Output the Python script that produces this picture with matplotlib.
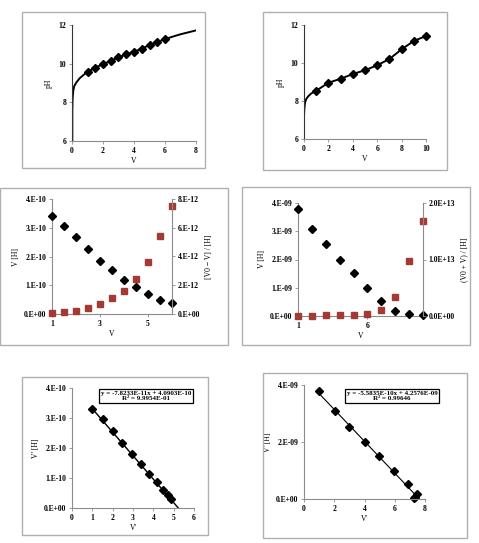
import matplotlib
matplotlib.use("Agg")
import matplotlib.pyplot as plt
from matplotlib.patches import Rectangle

# ---------------- data ----------------
# panel 1: titration curve + measured points
p1_curve_v = [0.02, 0.02, 0.04, 0.08, 0.15, 0.3, 0.5, 0.75, 1.0, 1.5, 2.0, 2.5,
              3.0, 3.5, 4.0, 4.5, 5.0, 5.5, 6.0, 6.5, 7.0, 7.5, 8.0]
p1_curve_ph = [6.0, 7.6, 8.2, 8.6, 8.85, 9.05, 9.25, 9.42, 9.58, 9.79, 9.98, 10.14,
               10.33, 10.48, 10.62, 10.77, 10.97, 11.12, 11.27, 11.4, 11.52, 11.62, 11.72]
p1_v = [1.0, 1.5, 2.0, 2.5, 3.0, 3.5, 4.0, 4.5, 5.0, 5.5, 6.0]
p1_ph = [9.58, 9.79, 9.98, 10.14, 10.33, 10.48, 10.62, 10.77, 10.97, 11.12, 11.27]

# panel 2
p2_curve_v = [0.0, 0.0, 0.03, 0.08, 0.18, 0.35, 0.6, 1.0, 2, 3, 4, 5, 6, 7, 8, 9, 10]
p2_curve_ph = [6.0, 7.2, 7.6, 7.9, 8.1, 8.25, 8.4, 8.54, 8.96, 9.17, 9.42, 9.62,
               9.88, 10.21, 10.72, 11.16, 11.42]
p2_v = [1, 2, 3, 4, 5, 6, 7, 8, 9, 10]
p2_ph = [8.54, 8.96, 9.17, 9.42, 9.62, 9.88, 10.21, 10.72, 11.16, 11.42]

# panel 3: V [H] (left) and (V0 - V)/[H] (right)
p3_v = [1.0, 1.5, 2.0, 2.5, 3.0, 3.5, 4.0, 4.5, 5.0, 5.5, 6.0]
p3_left = [3.40e-10, 3.05e-10, 2.69e-10, 2.26e-10, 1.85e-10, 1.53e-10,
           1.19e-10, 0.93e-10, 0.68e-10, 0.49e-10, 0.38e-10]
p3_right = [0.05e-12, 0.12e-12, 0.23e-12, 0.40e-12, 0.70e-12, 1.09e-12,
            1.63e-12, 2.42e-12, 3.60e-12, 5.40e-12, 7.53e-12]

# panel 4
p4_v = [1, 2, 3, 4, 5, 6, 7, 8, 9, 10]
p4_left = [3.80e-9, 3.08e-9, 2.54e-9, 1.99e-9, 1.51e-9, 1.00e-9,
           0.54e-9, 0.18e-9, 0.06e-9, 0.02e-9]
p4_right = [0.005e13, 0.008e13, 0.012e13, 0.02e13, 0.025e13, 0.04e13,
            0.10e13, 0.34e13, 0.98e13, 1.69e13]

# panel 5: linearised data + trend line
p5_x = [0.98, 1.50, 2.0, 2.48, 2.94, 3.38, 3.80, 4.16, 4.49, 4.73, 4.89]
p5_y = [3.31e-10, 2.96e-10, 2.57e-10, 2.18e-10, 1.80e-10, 1.47e-10,
        1.14e-10, 0.86e-10, 0.60e-10, 0.42e-10, 0.30e-10]
p5_slope, p5_icpt = -7.8233e-11, 4.0903e-10
p5_eq = "y = -7.8233E-11x + 4.0903E-10\nR² = 9.9954E-01"

# panel 6
p6_x = [1.0, 2.05, 3.0, 4.0, 4.98, 5.95, 6.9, 7.45, 7.35, 7.3]
p6_y = [3.80e-9, 3.08e-9, 2.54e-9, 1.99e-9, 1.51e-9, 1.00e-9,
        0.54e-9, 0.18e-9, 0.06e-9, 0.02e-9]
p6_slope, p6_icpt = -5.5835e-10, 4.2576e-09
p6_eq = "y = -5.5835E-10x + 4.2576E-09\nR² = 0.99646"

W, H = 479, 543
plt.rcParams["font.family"] = ["Liberation Serif", "DejaVu Serif"]
plt.rcParams["font.weight"] = "bold"
plt.rcParams["font.size"] = 5.5

fig = plt.figure(figsize=(W / 100, H / 100), dpi=100)

GRAY = "#8c8c8c"
RED = "#a23b36"
MS = 4.2


def box(x0, y0, x1, y1):
    # grey chart-area frame, pixel coords from top-left
    fig.patches.append(Rectangle((x0 / W, 1 - y1 / H), (x1 - x0) / W, (y1 - y0) / H,
                                 transform=fig.transFigure, fill=False,
                                 edgecolor="#b0b0b0", linewidth=1.0))


def axes_px(x0, y0, x1, y1):
    ax = fig.add_axes([x0 / W, 1 - y1 / H, (x1 - x0) / W, (y1 - y0) / H])
    for s in ["top", "right"]:
        ax.spines[s].set_visible(False)
    for s in ["left", "bottom"]:
        ax.spines[s].set_color(GRAY)
        ax.spines[s].set_linewidth(0.8)
    ax.tick_params(direction="out", length=2, width=0.6, color=GRAY, pad=2,
                   labelsize=5.5)
    ax.patch.set_alpha(0)
    return ax


def right_axis(ax):
    axr = ax.twinx()
    for s in ["top", "left", "bottom"]:
        axr.spines[s].set_visible(False)
    axr.spines["right"].set_color(GRAY)
    axr.spines["right"].set_linewidth(0.8)
    axr.tick_params(direction="out", length=2, width=0.6, color=GRAY, pad=2,
                    labelsize=5.5)
    return axr


# ---- panel 1 ----
box(22, 12, 205, 168)
ax1 = axes_px(72, 25, 196, 141)
ax1.spines["left"].set_color("#333333")
ax1.plot(p1_curve_v, p1_curve_ph, color="black", lw=1.4)
ax1.plot(p1_v, p1_ph, "D", color="black", ms=MS)
ax1.set_xlim(0, 8)
ax1.set_ylim(6, 12)
ax1.set_xticks([0, 2, 4, 6, 8])
ax1.set_yticks([6, 8, 10, 12])
ax1.set_xlabel("V", labelpad=2)
ax1.set_ylabel("pH", labelpad=4)

# ---- panel 2 ----
box(263, 12, 447, 170)
ax2 = axes_px(304, 25, 426, 139)
ax2.spines["left"].set_color("#333333")
ax2.plot(p2_curve_v, p2_curve_ph, color="black", lw=1.4)
ax2.plot(p2_v, p2_ph, "D", color="black", ms=MS, clip_on=False)
ax2.set_xlim(0, 10)
ax2.set_ylim(6, 12)
ax2.set_xticks([0, 2, 4, 6, 8, 10])
ax2.set_yticks([6, 8, 10, 12])
ax2.set_xlabel("V", labelpad=2)
ax2.set_ylabel("pH", labelpad=4)

# ---- panel 3 ----
box(0, 188, 228, 345)
ax3 = axes_px(52, 199, 172, 314)
ax3.plot(p3_v, p3_left, "D", color="black", ms=MS, clip_on=False, zorder=3)
ax3.set_xlim(1, 6)
ax3.set_ylim(0, 4e-10)
ax3.set_xticks([1, 3, 5])
ax3.set_yticks([0, 1e-10, 2e-10, 3e-10, 4e-10])
ax3.set_yticklabels(["0.E+00", "1.E-10", "2.E-10", "3.E-10", "4.E-10"])
ax3.set_xlabel("V", labelpad=2)
ax3.set_ylabel("V [H]", labelpad=3)
ax3r = right_axis(ax3)
ax3r.plot(p3_v, p3_right, "s", color=RED, ms=MS, clip_on=False, zorder=2)
ax3r.set_ylim(0, 8e-12)
ax3r.set_yticks([0, 2e-12, 4e-12, 6e-12, 8e-12])
ax3r.set_yticklabels(["0.E+00", "2.E-12", "4.E-12", "6.E-12", "8.E-12"])
ax3r.set_ylabel("[V0 − V] / [H]", rotation=90, labelpad=4)

# ---- panel 4 ----
box(242, 187, 470, 345)
ax4 = axes_px(298, 203, 423, 316)
ax4.plot(p4_v, p4_left, "D", color="black", ms=MS, clip_on=False, zorder=3)
ax4.set_xlim(1, 10)
ax4.set_ylim(0, 4e-9)
ax4.set_xticks([1, 6])
ax4.set_yticks([0, 1e-9, 2e-9, 3e-9, 4e-9])
ax4.set_yticklabels(["0.E+00", "1.E-09", "2.E-09", "3.E-09", "4.E-09"])
ax4.set_xlabel("V", labelpad=2)
ax4.set_ylabel("V [H]", labelpad=3)
ax4r = right_axis(ax4)
ax4r.plot(p4_v, p4_right, "s", color=RED, ms=MS + 0.3, clip_on=False, zorder=2)
ax4r.set_ylim(0, 2e13)
ax4r.set_yticks([0, 1e13, 2e13])
ax4r.set_yticklabels(["0.0E+00", "1.0E+13", "2.0E+13"])
ax4r.set_ylabel("(V0 + V) / [H]", rotation=90, labelpad=4)

# ---- panel 5 ----
box(22, 377, 208, 535)
ax5 = axes_px(72, 388, 194, 508)
x_end5 = -p5_icpt / p5_slope
ax5.plot([min(p5_x), x_end5],
         [p5_slope * min(p5_x) + p5_icpt, 0], color="black", lw=1.0)
ax5.plot(p5_x, p5_y, "D", color="black", ms=MS)
ax5.set_xlim(0, 6)
ax5.set_ylim(0, 4e-10)
ax5.set_xticks([0, 1, 2, 3, 4, 5, 6])
ax5.set_yticks([0, 1e-10, 2e-10, 3e-10, 4e-10])
ax5.set_yticklabels(["0.E+00", "1.E-10", "2.E-10", "3.E-10", "4.E-10"])
ax5.set_xlabel("V'", labelpad=2)
ax5.set_ylabel("V' [H]", labelpad=3)
fig.text(146 / W, 1 - 396 / H, p5_eq, ha="center", va="center", fontsize=5,
         linespacing=1.1,
         bbox=dict(boxstyle="square,pad=0.3", fc="white", ec="black", lw=0.9))

# ---- panel 6 ----
box(263, 373, 467, 538)
ax6 = axes_px(304, 385, 425, 499)
x_end6 = -p6_icpt / p6_slope
ax6.plot([min(p6_x) - 0.1, x_end6],
         [p6_slope * (min(p6_x) - 0.1) + p6_icpt, 0], color="black", lw=0.8)
ax6.plot(p6_x, p6_y, "D", color="black", ms=MS, clip_on=False)
ax6.set_xlim(0, 8)
ax6.set_ylim(0, 4e-9)
ax6.set_xticks([0, 2, 4, 6, 8])
ax6.set_yticks([0, 2e-9, 4e-9])
ax6.set_yticklabels(["0.E+00", "2.E-09", "4.E-09"])
ax6.set_xlabel("V'", labelpad=2)
ax6.set_ylabel("V' [H]", labelpad=3)
fig.text(392 / W, 1 - 396 / H, p6_eq, ha="center", va="center", fontsize=5,
         linespacing=1.1,
         bbox=dict(boxstyle="square,pad=0.3", fc="white", ec="black", lw=0.9))

fig.savefig("out.png", dpi=100)
